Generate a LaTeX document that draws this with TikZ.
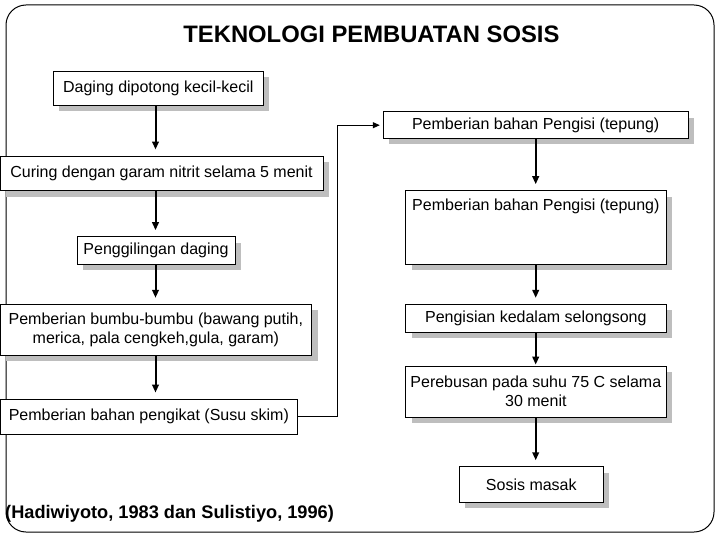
\documentclass[tikz,border=0pt]{standalone}
\usepackage{fontspec}
\setmainfont{Liberation Sans}
\usetikzlibrary{arrows.meta,shadows}
\definecolor{shadowgray}{RGB}{190,190,190}
\begin{document}
\begin{tikzpicture}[x=1pt,y=-1pt,
  boxtext/.style={font=\fontsize{16}{19}\selectfont},
  plainbox/.style={draw=black, line width=0.8pt, fill=white, inner sep=0pt, align=center, boxtext},
  stepbox/.style={plainbox, drop shadow={shadow xshift=6pt, shadow yshift=-6pt, fill=shadowgray, opacity=1}},
  flow/.style={line width=2pt, -{Triangle[length=8pt,width=6.5pt]}, shorten >=6pt},
  link/.style={line width=1pt, -{Triangle[length=7pt,width=6pt]}, shorten >=3pt},
]
\useasboundingbox (0,0) rectangle (720,540);
\draw[line width=1pt, rounded corners=20pt] (6,5) rectangle (714,532);

\node[font=\fontsize{23.8}{28}\selectfont\bfseries, inner sep=0pt] (title) at (371.4,33.9) {TEKNOLOGI PEMBUATAN SOSIS};

\coordinate (colL) at (155.5,0);
\coordinate (colR) at (535.7,0);

\node[stepbox, minimum width=210pt, minimum height=34pt] (A) at (158.3,88) {Daging dipotong kecil-kecil};
\node[stepbox, minimum width=305pt, minimum height=26.6pt] (B) at (535.7,125.2) {Pemberian bahan Pengisi (tepung)};
\node[stepbox, minimum width=323pt, minimum height=34.7pt] (C) at (161.5,173.3) {Curing dengan garam nitrit selama 5 menit};
\node[stepbox, minimum width=260.3pt, minimum height=73.3pt,
      label={[anchor=north, inner sep=0pt, yshift=-8pt, boxtext]north:Pemberian bahan Pengisi (tepung)}] (D) at (535.85,227.3) {};
\node[stepbox, minimum width=158pt, minimum height=27.3pt] (E) at (156,250.3) {Penggilingan daging};
\node[stepbox, minimum width=311.7pt, minimum height=50.7pt] (F) at (155.85,329.6) {Pemberian bumbu-bumbu (bawang putih,\\merica, pala cengkeh,gula, garam)};
\node[stepbox, minimum width=260.3pt, minimum height=28pt] (G) at (535.85,318.3) {Pengisian kedalam selongsong};
\node[stepbox, minimum width=260.3pt, minimum height=51.3pt] (H) at (535.85,391.7) {Perebusan pada suhu 75 C selama\\30 menit};
\node[plainbox, minimum width=297.7pt, minimum height=35pt] (I) at (148.85,416.5) {Pemberian bahan pengikat (Susu skim)};
\node[stepbox, minimum width=144pt, minimum height=35.6pt] (J) at (531.3,484.5) {Sosis masak};

\node[font=\fontsize{18.2}{21}\selectfont\bfseries, inner sep=0pt, anchor=base west] (cite) at (5,518) {(Hadiwiyoto, 1983 dan Sulistiyo, 1996)};

\draw[flow] (A.south -| colL) -- (C.north -| colL);
\draw[flow] (C.south -| colL) -- (E.north -| colL);
\draw[flow] (E.south -| colL) -- (F.north -| colL);
\draw[flow] (F.south -| colL) -- (I.north -| colL);

\draw[flow] (B.south -| colR) -- (D.north -| colR);
\draw[flow] (D.south -| colR) -- (G.north -| colR);
\draw[flow, shorten >=1pt] (G.south -| colR) -- (H.north -| colR);
\draw[flow] (H.south -| colR) -- (J.north -| colR);

\draw[link] (I.east) -- ++(39.6,0) |- (B.west);
\end{tikzpicture}
\end{document}
